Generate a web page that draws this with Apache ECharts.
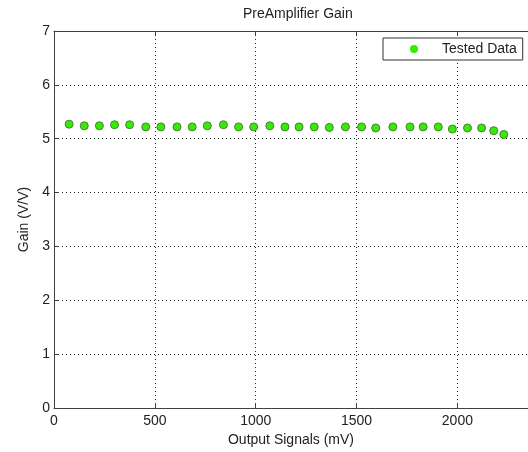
<!DOCTYPE html>
<html>
<head>
<meta charset="utf-8">
<script src="https://cdn.jsdelivr.net/npm/echarts@6/dist/echarts.min.js"></script>
<style>
  html, body { margin: 0; padding: 0; background: #ffffff; }
  #chart { width: 528px; height: 452px; }
</style>
</head>
<body>
<div id="chart"></div>
<script>
// Output signal levels (mV) and measured preamplifier gain (V/V)
const outputSignals = [75, 150, 225, 300, 375, 455, 530, 610, 685, 760, 840, 915, 990, 1070, 1145,
                       1215, 1290, 1365, 1445, 1525, 1595, 1680, 1765, 1830, 1905, 1975, 2050, 2120, 2180, 2230];
const gainValues = [5.27, 5.24, 5.24, 5.26, 5.26, 5.22, 5.22, 5.22, 5.22, 5.24, 5.26, 5.22, 5.22, 5.24, 5.22,
                    5.22, 5.22, 5.21, 5.22, 5.22, 5.20, 5.22, 5.22, 5.22, 5.22, 5.18, 5.20, 5.20, 5.15, 5.08];
const xTicks = [0, 500, 1000, 1500, 2000];
const yTicks = [0, 1, 2, 3, 4, 5, 6, 7];

const FONT = '"Liberation Sans", Arial, sans-serif';
const AXIS_COLOR = '#404040';
const TEXT_COLOR = '#222222';

const chart = echarts.init(document.getElementById('chart'), null, { renderer: 'canvas' });

const points = outputSignals.map((x, i) => [x, gainValues[i]]);

const gridLine = { show: true, lineStyle: { color: '#222222', type: [1, 3], width: 1 } };

chart.setOption({
  backgroundColor: '#ffffff',
  animation: false,
  title: {
    text: 'PreAmplifier Gain',
    left: 243,
    top: 7,
    padding: 0,
    textStyle: { fontFamily: FONT, fontSize: 14, fontWeight: 'normal', color: TEXT_COLOR }
  },
  legend: {
    left: 383,
    top: 38,
    orient: 'vertical',
    padding: [4, 6, 4, 27],
    backgroundColor: '#ffffff',
    borderColor: '#333333',
    borderWidth: 1,
    borderRadius: 0,
    itemWidth: 8,
    itemHeight: 8,
    textStyle: { fontFamily: FONT, fontSize: 14, color: TEXT_COLOR, padding: [0, 0, 0, 19] },
    data: [{ name: 'Tested Data', icon: 'circle', itemStyle: { color: '#33ee00', borderWidth: 0 } }]
  },
  grid: { left: 54, top: 31, width: 487, height: 379, containLabel: false },
  xAxis: [
    {
      type: 'value',
      min: xTicks[0],
      max: 2350,
      interval: 500,
      position: 'bottom',
      name: 'Output Signals (mV)',
      nameLocation: 'middle',
      nameGap: 22,
      nameTextStyle: { fontFamily: FONT, fontSize: 14, color: TEXT_COLOR },
      axisLine: { show: true, lineStyle: { color: AXIS_COLOR, width: 1 } },
      axisTick: { show: true, inside: true, length: 5, lineStyle: { color: AXIS_COLOR } },
      axisLabel: {
        fontFamily: FONT, fontSize: 14, color: TEXT_COLOR, margin: 6,
        showMaxLabel: false,
        formatter: v => (xTicks.includes(v) ? String(v) : '')
      },
      splitLine: gridLine
    },
    {
      type: 'value',
      min: xTicks[0],
      max: 2350,
      interval: 500,
      position: 'top',
      axisLine: { show: true, lineStyle: { color: AXIS_COLOR, width: 1 } },
      axisTick: { show: true, inside: true, length: 5, lineStyle: { color: AXIS_COLOR } },
      axisLabel: { show: false },
      splitLine: { show: false }
    }
  ],
  yAxis: {
    type: 'value',
    min: yTicks[0],
    max: yTicks[yTicks.length - 1],
    interval: 1,
    name: 'Gain (V/V)',
    nameLocation: 'middle',
    nameGap: 20,
    nameTextStyle: { fontFamily: FONT, fontSize: 14, color: TEXT_COLOR },
    axisLine: { show: true, lineStyle: { color: AXIS_COLOR, width: 1 } },
    axisTick: { show: true, inside: true, length: 5, lineStyle: { color: AXIS_COLOR } },
    axisLabel: { fontFamily: FONT, fontSize: 14, color: TEXT_COLOR, margin: 4 },
    splitLine: gridLine
  },
  series: [
    {
      name: 'Tested Data',
      type: 'scatter',
      data: points,
      symbol: 'circle',
      symbolSize: 8,
      itemStyle: { color: '#33ee00', borderColor: '#4f7a42', borderWidth: 1, opacity: 1 },
      z: 3
    }
  ]
});
</script>
</body>
</html>
